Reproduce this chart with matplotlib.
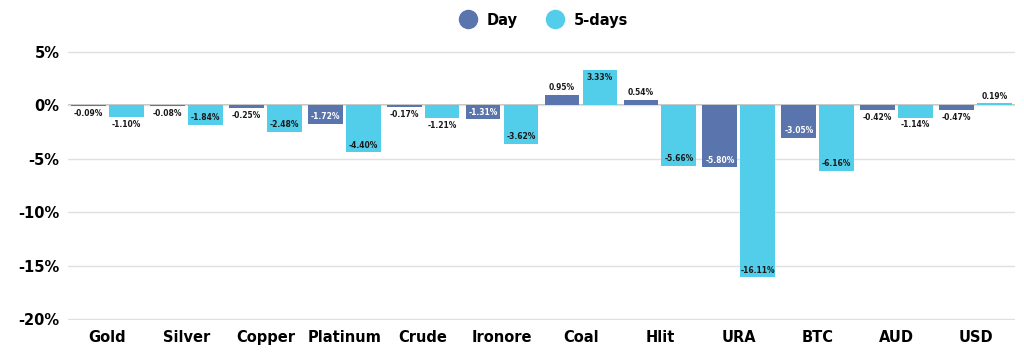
import matplotlib
matplotlib.use("Agg")
import matplotlib.pyplot as plt
import numpy as np
from matplotlib.lines import Line2D

categories = ["Gold", "Silver", "Copper", "Platinum", "Crude", "Ironore",
              "Coal", "Hlit", "URA", "BTC", "AUD", "USD"]
day = [-0.09, -0.08, -0.25, -1.72, -0.17, -1.31, 0.95, 0.54, -5.80, -3.05, -0.42, -0.47]
five_days = [-1.10, -1.84, -2.48, -4.40, -1.21, -3.62, 3.33, -5.66, -16.11, -6.16, -1.14, 0.19]
yticks = [5, 0, -5, -10, -15, -20]

plt.rcParams['font.family'] = ['DejaVu Sans']
C_DAY = "#5A74AD"
C_5D = "#52CEEA"

fig = plt.figure(figsize=(10.24, 3.56), dpi=100)
top_px, bot_px = 52 - 1.07, 319 + 1.07
ax = fig.add_axes([68/1024, 1-bot_px/356, (1015-68)/1024, (bot_px-top_px)/356])

x = np.arange(len(categories))
w = 0.44
off = 0.24
ax.bar(x - off, day, width=w, color=C_DAY, zorder=2, label="Day")
ax.bar(x + off, five_days, width=w, color=C_5D, zorder=2, label="5-days")

ax.set_xlim(-0.5, len(categories) - 0.5)
ax.set_ylim(-20.1, 5.1)
ax.set_yticks(yticks)
ax.set_yticklabels([f"{t}%" for t in yticks], fontsize=10.5, fontweight='bold')
ax.set_xticks(x)
ax.set_xticklabels(categories, fontsize=10.5, fontweight='bold')
ax.tick_params(length=0, pad=6)
ax.tick_params(axis='x', pad=7)
for s in ax.spines.values():
    s.set_visible(False)
ax.grid(axis='y', color='#e0e0e0', linewidth=1, zorder=0)
ax.axhline(0, color='#b8b8b8', linewidth=1.2, zorder=1.5)

def label(xpos, v, inside_color):
    inside = abs(v) >= 1.25
    txt = f"{v:.2f}%"
    kw = dict(textcoords='offset points', ha='center', fontsize=5.5,
              fontweight='bold', zorder=4)
    if inside:
        if v < 0:
            ax.annotate(txt, (xpos, v), xytext=(0, 2), va='bottom', color=inside_color, **kw)
        else:
            ax.annotate(txt, (xpos, v), xytext=(0, -2), va='top', color=inside_color, **kw)
    else:
        if v < 0:
            ax.annotate(txt, (xpos, v), xytext=(0, -2), va='top', color='#1a1a1a', **kw)
        else:
            ax.annotate(txt, (xpos, v), xytext=(0, 2), va='bottom', color='#1a1a1a', **kw)

for i in range(len(categories)):
    label(x[i] - off, day[i], 'white')
    label(x[i] + off, five_days[i], '#1a1a1a')

handles = [Line2D([], [], marker='o', linestyle='', markersize=13, color=C_DAY),
           Line2D([], [], marker='o', linestyle='', markersize=13, color=C_5D)]
fig.legend(handles, ["Day", "5-days"], loc='center', bbox_to_anchor=(0.528, 1-20/356),
           ncol=2, frameon=False, prop={'weight': 'bold', 'size': 10.5},
           handletextpad=0.3, columnspacing=1.5)

fig.savefig("out.png", dpi=100)
